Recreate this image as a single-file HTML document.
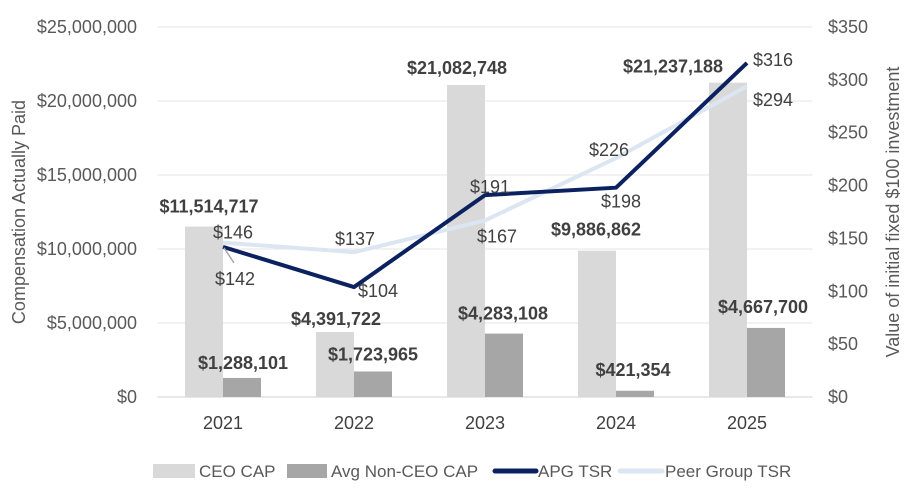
<!DOCTYPE html>
<html><head><meta charset="utf-8"><style>
body{margin:0;background:#fff;font-family:"Liberation Sans",sans-serif}
svg text{font-family:"Liberation Sans",sans-serif}
</style></head><body>
<svg id="chart" width="907" height="487" viewBox="0 0 907 487" xmlns="http://www.w3.org/2000/svg">
<g id="grid"></g><g id="bars"></g><g id="lines"></g><g id="labels"></g><g id="axes"></g><g id="legend"></g>
</svg>
<script>
const years=["2021","2022","2023","2024","2025"];
const ceoCap=[11514717,4391722,21082748,9886862,21237188];
const avgCap=[1288101,1723965,4283108,421354,4667700];
const apgTsr=[142,104,191,198,316];
const peerTsr=[146,137,167,226,294];
const leftTicks=[0,5000000,10000000,15000000,20000000,25000000];
const rightTicks=[0,50,100,150,200,250,300,350];
const NS="http://www.w3.org/2000/svg";
const x0=157.5,band=131,yB=397,yT=27;
const xc=i=>x0+band*(i+0.5);
const yL=v=>yB-(v/25000000)*(yB-yT);
const yR=v=>yB-(v/350)*(yB-yT);
function mk(tag,attrs,parent,txt){const e=document.createElementNS(NS,tag);for(const k in attrs)e.setAttribute(k,attrs[k]);if(txt!==undefined)e.textContent=txt;document.getElementById(parent).appendChild(e);return e;}
const fmt=v=>"$"+v.toLocaleString("en-US");
leftTicks.forEach(t=>{
 const l=mk("line",{x1:x0,x2:812.5,y1:yL(t),y2:yL(t),stroke:t===0?"#d0d0d0":"#e4e4e4","stroke-width":1},"grid");
 
 
 const tx=mk("text",{x:137,y:yL(t)+6,"text-anchor":"end","font-size":18,fill:"#595959"},"axes",fmt(t));
 
 
});
rightTicks.forEach(t=>{
 const tx=mk("text",{x:828,y:yR(t)+6,"font-size":18,fill:"#595959"},"axes","$"+t);
 
 
});
const bw=38;
const ceoOff=[[-14,-14],[-18,-7],[-28,-11],[-20,-15],[-74,-10]];
const avgOff=[[20,-9],[19,-11],[18,-14],[17,-15],[16,-15]];
years.forEach((y,i)=>{
 const b1=mk("rect",{x:xc(i)-bw,y:yL(ceoCap[i]),width:bw,height:yB-yL(ceoCap[i]),fill:"#d9d9d9"},"bars");
 
 
 const b2=mk("rect",{x:xc(i),y:yL(avgCap[i]),width:bw,height:yB-yL(avgCap[i]),fill:"#a6a6a6"},"bars");
 
 
 const xl=mk("text",{x:xc(i),y:429,"text-anchor":"middle","font-size":18,fill:"#404040"},"axes",y);
 
 
 const l1=mk("text",{x:xc(i)+ceoOff[i][0],y:yL(ceoCap[i])+ceoOff[i][1],"text-anchor":"middle","font-size":18,"font-weight":"bold",fill:"#404040"},"labels",fmt(ceoCap[i]));
 
 
 const l2=mk("text",{x:xc(i)+avgOff[i][0],y:yL(avgCap[i])+avgOff[i][1],"text-anchor":"middle","font-size":18,"font-weight":"bold",fill:"#404040"},"labels",fmt(avgCap[i]));
 
 
});
const pp=mk("polyline",{points:peerTsr.map((v,i)=>xc(i)+","+yR(v)).join(" "),fill:"none",stroke:"#dce6f2","stroke-width":4,"stroke-linejoin":"round"},"lines");


const ap=mk("polyline",{points:apgTsr.map((v,i)=>xc(i)+","+yR(v)).join(" "),fill:"none",stroke:"#0c2160","stroke-width":4,"stroke-linejoin":"round"},"lines");


const leader=mk("line",{x1:xc(0)+1,y1:yR(apgTsr[0])+1,x2:xc(0)+11,y2:yR(apgTsr[0])+16,stroke:"#a6a6a6","stroke-width":1.5},"lines");


const apOff=[[12,38],[24,10],[5,-2],[5,20],[26,3]];
const peOff=[[10,-4],[1,-7],[12,22],[-7,-2],[26,20]];
years.forEach((y,i)=>{
 const a=mk("text",{x:xc(i)+apOff[i][0],y:yR(apgTsr[i])+apOff[i][1],"text-anchor":"middle","font-size":18,fill:"#404040"},"labels","$"+apgTsr[i]);
 
 
 const p=mk("text",{x:xc(i)+peOff[i][0],y:yR(peerTsr[i])+peOff[i][1],"text-anchor":"middle","font-size":18,fill:"#404040"},"labels","$"+peerTsr[i]);
 
 
});
const yt=mk("text",{x:0,y:0,transform:"translate(25,212) rotate(-90)","text-anchor":"middle","font-size":18,fill:"#595959"},"axes","Compensation Actually Paid");


const yt2=mk("text",{x:0,y:0,transform:"translate(899,212) rotate(-90)","text-anchor":"middle","font-size":18,fill:"#595959"},"axes","Value of initial fixed $100 investment");


const leg=[["CEO CAP","rect","#d9d9d9",153,195,199],["Avg Non-CEO CAP","rect","#a6a6a6",287,327,331],["APG TSR","line","#0c2160",495,536,538],["Peer Group TSR","line","#dce6f2",620,662,665]];
leg.forEach(l=>{
 const g=mk("g",{},"legend");
 
 
 const sw=l[1]==="rect"?mk("rect",{x:l[3],y:464,width:l[4]-l[3],height:14,fill:l[2]},"legend"):mk("line",{x1:l[3],x2:l[4],y1:471,y2:471,stroke:l[2],"stroke-width":5,"stroke-linecap":"round"},"legend");
 
 
 g.appendChild(sw);
 const t=mk("text",{x:l[5],y:477,"font-size":17,fill:"#595959"},"legend",l[0]);
 
 
 g.appendChild(t);
});
</script>
</body></html>
